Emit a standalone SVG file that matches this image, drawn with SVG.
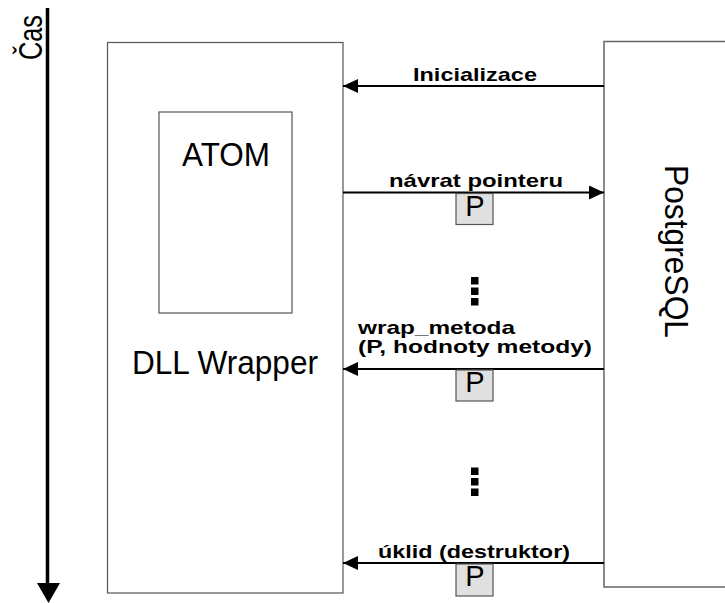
<svg xmlns="http://www.w3.org/2000/svg" width="725" height="603" viewBox="0 0 725 603">
  <style>
    .box { fill: #ffffff; stroke: #555555; stroke-width: 1.2; }
    .conn { stroke: #000000; stroke-width: 2.2; fill: none; }
    .lbl { font-family: "Liberation Sans", Arial, sans-serif; font-weight: bold; font-size: 19px; fill: #000000; }
    .big { font-family: "Liberation Sans", Arial, sans-serif; font-size: 33px; fill: #000000; }
    .pbox { fill: #e0e0e0; stroke: #555555; stroke-width: 1.2; }
    .ptxt { font-family: "Liberation Sans", Arial, sans-serif; font-size: 29px; fill: #000000; text-anchor: middle; }
    .dot { fill: #000000; }
  </style>
  <defs>
    <marker id="arr" markerUnits="userSpaceOnUse" markerWidth="16" markerHeight="16" refX="15" refY="7" orient="auto">
      <path d="M0,0 L15,7 L0,14 Z" fill="#000000"/>
    </marker>
  </defs>
  <rect width="725" height="603" fill="#ffffff"/>

  <g id="time-axis">
    <line x1="47.5" y1="8" x2="47.5" y2="586" stroke="#000000" stroke-width="3.5"/>
    <path d="M37,583 L60,583 L48.5,603 Z" fill="#000000"/>
    <text class="big" font-size="22" transform="translate(41.5,37.5) rotate(-90)" text-anchor="middle" textLength="45" lengthAdjust="spacingAndGlyphs">Čas</text>
  </g>

  <g id="node-dll-wrapper">
    <rect class="box" x="107.5" y="42.5" width="235.5" height="550.5"/>
    <text class="big" x="132" y="374" textLength="186" lengthAdjust="spacingAndGlyphs">DLL Wrapper</text>
  </g>

  <g id="node-atom">
    <rect class="box" x="159" y="112" width="133" height="201"/>
    <text class="big" x="182" y="165.5" textLength="88" lengthAdjust="spacingAndGlyphs">ATOM</text>
  </g>

  <g id="node-postgresql">
    <rect x="604" y="41.5" width="140" height="545.5" fill="#ffffff" stroke="#666666" stroke-width="1.5"/>
    <text class="big" transform="translate(665,251.5) rotate(90)" text-anchor="middle" textLength="173" lengthAdjust="spacingAndGlyphs">PostgreSQL</text>
  </g>

  <g id="connectors">
    <line class="conn" x1="604" y1="86" x2="343" y2="86" marker-end="url(#arr)"/>
    <line class="conn" x1="343" y1="192.5" x2="604" y2="192.5" marker-end="url(#arr)"/>
    <line class="conn" x1="604" y1="369" x2="343" y2="369" marker-end="url(#arr)"/>
    <line class="conn" x1="604" y1="563" x2="343" y2="563" marker-end="url(#arr)"/>
  </g>

  <g id="connector-labels">
    <text class="lbl" x="413" y="80.5" textLength="124" lengthAdjust="spacingAndGlyphs">Inicializace</text>
    <text class="lbl" x="389" y="187" textLength="174" lengthAdjust="spacingAndGlyphs">návrat pointeru</text>
    <text class="lbl" x="358" y="334" font-size="18" textLength="157" lengthAdjust="spacingAndGlyphs">wrap_metoda</text>
    <text class="lbl" x="358" y="353" font-size="18" textLength="234" lengthAdjust="spacingAndGlyphs">(P, hodnoty metody)</text>
    <text class="lbl" x="378" y="558" textLength="192" lengthAdjust="spacingAndGlyphs">úklid (destruktor)</text>
  </g>

  <g id="pointer-p1">
    <rect class="pbox" x="456" y="193.5" width="37" height="31"/>
    <text class="ptxt" x="475" y="215.5">P</text>
  </g>
  <g id="pointer-p2">
    <rect class="pbox" x="456" y="370" width="37" height="31"/>
    <text class="ptxt" x="475" y="392">P</text>
  </g>
  <g id="pointer-p3">
    <rect class="pbox" x="456" y="564" width="37" height="32"/>
    <text class="ptxt" x="475" y="586">P</text>
  </g>

  <g id="ellipsis-1">
    <rect class="dot" x="471" y="277" width="7.5" height="7.5"/>
    <rect class="dot" x="471" y="287.5" width="7.5" height="7.5"/>
    <rect class="dot" x="471" y="298" width="7.5" height="7.5"/>
  </g>
  <g id="ellipsis-2">
    <rect class="dot" x="471" y="467.5" width="7.5" height="7.5"/>
    <rect class="dot" x="471" y="478" width="7.5" height="7.5"/>
    <rect class="dot" x="471" y="488.5" width="7.5" height="7.5"/>
  </g>
</svg>
